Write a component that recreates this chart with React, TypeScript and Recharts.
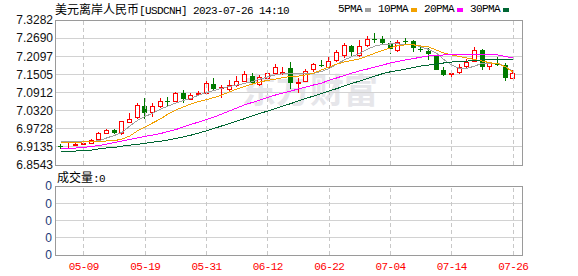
import React from 'react';
import { ComposedChart, Bar, Line, XAxis, YAxis, CartesianGrid, ReferenceLine } from 'recharts';

// trading days shown on the chart (MM-DD)
const dates = [
  '05-04', '05-05', '05-08', '05-09', '05-10', '05-11', '05-12', '05-15', '05-16', '05-17',
  '05-18', '05-19', '05-22', '05-23', '05-24', '05-25', '05-26', '05-29', '05-30', '05-31',
  '06-01', '06-02', '06-05', '06-06', '06-07', '06-08', '06-09', '06-12', '06-13', '06-14',
  '06-15', '06-16', '06-19', '06-20', '06-21', '06-22', '06-23', '06-26', '06-27', '06-28',
  '06-29', '06-30', '07-03', '07-04', '07-05', '07-06', '07-07', '07-10', '07-11', '07-12',
  '07-13', '07-14', '07-17', '07-18', '07-19', '07-20', '07-21', '07-24', '07-25', '07-26',
];

const opens = [
  6.915, 6.919, 6.921, 6.924, 6.927, 6.938, 6.960, 6.969, 6.958, 6.995,
  7.010, 7.047, 7.027, 7.048, 7.064, 7.065, 7.089, 7.071, 7.086, 7.089,
  7.119, 7.106, 7.102, 7.116, 7.130, 7.145, 7.119, 7.138, 7.154, 7.156,
  7.170, 7.121, 7.130, 7.167, 7.180, 7.176, 7.197, 7.214, 7.244, 7.214,
  7.245, 7.267, 7.266, 7.252, 7.230, 7.258, 7.260, 7.232, 7.227, 7.210,
  7.165, 7.153, 7.159, 7.179, 7.195, 7.230, 7.178, 7.185, 7.181, 7.138,
];
const highs = [
  6.922, 6.928, 6.927, 6.932, 6.938, 6.962, 6.972, 6.973, 6.997, 7.023,
  7.058, 7.072, 7.056, 7.072, 7.078, 7.093, 7.099, 7.089, 7.096, 7.132,
  7.138, 7.116, 7.131, 7.144, 7.161, 7.155, 7.149, 7.165, 7.184, 7.176,
  7.192, 7.138, 7.167, 7.189, 7.197, 7.208, 7.230, 7.252, 7.248, 7.263,
  7.276, 7.287, 7.276, 7.260, 7.263, 7.268, 7.262, 7.241, 7.236, 7.212,
  7.175, 7.160, 7.185, 7.201, 7.240, 7.232, 7.191, 7.207, 7.187, 7.165,
];
const lows = [
  6.906, 6.909, 6.916, 6.920, 6.925, 6.935, 6.955, 6.955, 6.951, 6.993,
  7.004, 7.004, 7.012, 7.042, 7.045, 7.061, 7.056, 7.067, 7.083, 7.083,
  7.099, 7.072, 7.094, 7.110, 7.127, 7.116, 7.114, 7.132, 7.149, 7.149,
  7.103, 7.089, 7.126, 7.159, 7.176, 7.170, 7.192, 7.203, 7.208, 7.208,
  7.240, 7.252, 7.249, 7.218, 7.225, 7.248, 7.224, 7.225, 7.197, 7.164,
  7.145, 7.132, 7.152, 7.168, 7.194, 7.166, 7.166, 7.177, 7.128, 7.136,
];
const closes = [
  6.914, 6.920, 6.923, 6.926, 6.936, 6.960, 6.969, 6.958, 6.997, 7.006,
  7.049, 7.025, 7.047, 7.065, 7.063, 7.089, 7.071, 7.083, 7.089, 7.121,
  7.103, 7.108, 7.116, 7.130, 7.151, 7.121, 7.143, 7.156, 7.176, 7.158,
  7.121, 7.124, 7.163, 7.183, 7.179, 7.194, 7.224, 7.247, 7.225, 7.244,
  7.267, 7.264, 7.254, 7.232, 7.257, 7.255, 7.236, 7.230, 7.216, 7.165,
  7.149, 7.155, 7.176, 7.191, 7.230, 7.176, 7.187, 7.183, 7.138, 7.156,
];

// moving averages as plotted (they include days before the visible window)
const ma5 = [
  6.931, 6.931, 6.931, 6.931, 6.931, 6.934, 6.943, 6.951, 6.961, 6.982,
  7.000, 7.013, 7.024, 7.037, 7.047, 7.057, 7.065, 7.072, 7.083, 7.091,
  7.098, 7.105, 7.111, 7.116, 7.121, 7.127, 7.135, 7.143, 7.149, 7.153,
  7.154, 7.154, 7.154, 7.154, 7.160, 7.170, 7.184, 7.198, 7.209, 7.219,
  7.233, 7.243, 7.248, 7.250, 7.250, 7.248, 7.247, 7.240, 7.232, 7.220,
  7.198, 7.181, 7.170, 7.170, 7.178, 7.187, 7.187, 7.187, 7.176, 7.159,
];
const ma10 = [
  6.928, 6.928, 6.928, 6.930, 6.931, 6.931, 6.933, 6.934, 6.939, 6.949,
  6.966, 6.979, 6.992, 7.005, 7.021, 7.034, 7.044, 7.054, 7.062, 7.068,
  7.075, 7.083, 7.093, 7.103, 7.111, 7.119, 7.126, 7.131, 7.135, 7.140,
  7.144, 7.145, 7.149, 7.155, 7.165, 7.175, 7.184, 7.191, 7.196, 7.201,
  7.211, 7.220, 7.229, 7.237, 7.245, 7.247, 7.247, 7.243, 7.240, 7.230,
  7.220, 7.214, 7.209, 7.204, 7.199, 7.194, 7.188, 7.186, 7.175, 7.158,
];
const ma20 = [
  6.907, 6.908, 6.910, 6.912, 6.915, 6.918, 6.923, 6.928, 6.933, 6.938,
  6.943, 6.948, 6.952, 6.957, 6.964, 6.970, 6.979, 6.987, 6.995, 7.003,
  7.011, 7.021, 7.031, 7.041, 7.051, 7.059, 7.067, 7.075, 7.083, 7.090,
  7.096, 7.103, 7.109, 7.116, 7.122, 7.131, 7.139, 7.147, 7.155, 7.162,
  7.168, 7.175, 7.181, 7.188, 7.193, 7.198, 7.202, 7.207, 7.211, 7.212,
  7.214, 7.216, 7.217, 7.217, 7.217, 7.217, 7.216, 7.214, 7.209, 7.204,
];
const ma30 = [
  6.898, 6.899, 6.900, 6.902, 6.903, 6.907, 6.910, 6.912, 6.916, 6.919,
  6.922, 6.925, 6.929, 6.932, 6.936, 6.941, 6.946, 6.952, 6.959, 6.966,
  6.974, 6.982, 6.990, 6.998, 7.006, 7.015, 7.023, 7.031, 7.039, 7.047,
  7.055, 7.064, 7.072, 7.080, 7.088, 7.096, 7.104, 7.113, 7.121, 7.129,
  7.137, 7.145, 7.153, 7.159, 7.163, 7.168, 7.173, 7.178, 7.181, 7.184,
  7.188, 7.191, 7.193, 7.194, 7.196, 7.198, 7.199, 7.200, 7.200, 7.200,
];

const volumes = [
  0, 0, 0, 0, 0, 0, 0, 0, 0, 0, 0, 0, 0, 0, 0, 0, 0, 0, 0, 0,
  0, 0, 0, 0, 0, 0, 0, 0, 0, 0, 0, 0, 0, 0, 0, 0, 0, 0, 0, 0,
  0, 0, 0, 0, 0, 0, 0, 0, 0, 0, 0, 0, 0, 0, 0, 0, 0, 0, 0, 0,
];

const priceTicks = [6.8543, 6.9135, 6.9728, 7.032, 7.0912, 7.1505, 7.2097, 7.269, 7.3282];
const labelDates = ['05-09', '05-19', '05-31', '06-12', '06-22', '07-04', '07-14', '07-26'];
const volTicks = [0, 1, 2, 3, 4];
const volTickLabels = ['0', '0', '0', '0', '0'];

const RED = '#ff0000';
const GREEN = '#007a00';
const C5 = '#a0a0a0';
const C10 = '#f2a100';
const C20 = '#ff00ff';
const C30 = '#006633';

const legendItems = [
  { name: '5PMA', color: C5 },
  { name: '10PMA', color: C10 },
  { name: '20PMA', color: C20 },
  { name: '30PMA', color: C30 },
];

const MONO = "'Liberation Mono', 'DejaVu Sans Mono', monospace";
const CJK = "'Noto Sans CJK SC', sans-serif";
const SANS = "'Liberation Sans', Arial, sans-serif";

const rows = dates.map((d, i) => ({
  date: d,
  open: opens[i],
  high: highs[i],
  low: lows[i],
  close: closes[i],
  range: [lows[i], highs[i]],
  ma5: ma5[i],
  ma10: ma10[i],
  ma20: ma20[i],
  ma30: ma30[i],
  vol: volumes[i],
}));

const Candle = (props: any) => {
  const { x, y, width, height, payload } = props;
  const { open, close, high, low } = payload;
  const top = Math.min(y, y + height);
  const h = Math.abs(height);
  const k = high === low ? 0 : h / (high - low);
  const cx = Math.floor(x + width / 2) + 0.5;
  const up = close >= open;
  const color = up ? RED : GREEN;
  const bTop = Math.round(top + (high - Math.max(open, close)) * k);
  const bBot = Math.round(top + (high - Math.min(open, close)) * k);
  return (
    <g>
      <line x1={cx} x2={cx} y1={top} y2={top + h} stroke={color} strokeWidth={1} />
      {up ? (
        <rect x={cx - 2} y={bTop + 0.5} width={4} height={Math.max(bBot - bTop, 0)} fill="#fff" stroke={RED} strokeWidth={1} />
      ) : (
        <rect x={cx - 2.5} y={bTop} width={5} height={Math.max(bBot - bTop, 1)} fill={GREEN} />
      )}
    </g>
  );
};

const DateTick = (props: any) => {
  const { x, y, payload } = props;
  return (
    <text x={x} y={y} dy={8.5} textAnchor="middle" fill={RED} fontFamily={MONO} fontSize={11} letterSpacing={-0.6}>
      {payload.value}
    </text>
  );
};

const frame = (top: number, height: number): React.CSSProperties => ({
  position: 'absolute',
  left: 55,
  top,
  width: 468,
  height,
  border: '1px solid #9a9a9a',
  boxSizing: 'border-box',
  pointerEvents: 'none',
});

export default function App() {
  return (
    <div style={{ position: 'absolute', left: 0, top: 0, width: 578, height: 276, background: '#fff', overflow: 'hidden', shapeRendering: 'crispEdges' } as any}>
      {/* title */}
      <div style={{ position: 'absolute', left: 55, top: 1, lineHeight: '16px', whiteSpace: 'nowrap', color: '#000' }}>
        <span style={{ fontFamily: CJK, fontSize: 12 }}>美元离岸人民币</span>
        <span style={{ fontFamily: MONO, fontSize: 11, letterSpacing: -0.6 }}>[USDCNH] 2023-07-26 14:10</span>
      </div>

      {/* legend */}
      <div style={{ position: 'absolute', left: 338, top: 1, display: 'flex', gap: 7, lineHeight: '16px', alignItems: 'center' }}>
        {legendItems.map((it) => (
          <div key={it.name} style={{ display: 'flex', alignItems: 'center' }}>
            <span style={{ fontFamily: MONO, fontSize: 11, letterSpacing: -0.6, color: '#000' }}>{it.name}</span>
            <span style={{ display: 'inline-block', width: 6, height: 4, background: it.color, marginLeft: 3, marginTop: 1 }} />
          </div>
        ))}
      </div>

      {/* watermark */}
      <div style={{ position: 'absolute', left: 242, top: 70, fontFamily: CJK, fontWeight: 700, fontSize: 34, lineHeight: '38px', color: '#e6e6ea', whiteSpace: 'nowrap' }}>
        东方财富
      </div>

      <div style={{ position: 'absolute', left: 0, top: 0 }}>
        <ComposedChart width={578} height={178} data={rows} margin={{ top: 20, right: 56, bottom: 13, left: 0 }}>
          <CartesianGrid horizontal vertical={false} stroke="#d2d2d2" />
          <XAxis dataKey="date" hide padding={{ left: 2, right: 5 }} />
          <YAxis
            type="number"
            domain={[priceTicks[0], priceTicks[priceTicks.length - 1]]}
            ticks={priceTicks}
            interval={0}
            allowDataOverflow
            width={55}
            tickLine={false}
            axisLine={false}
            tickSize={0}
            tickMargin={2}
            tickFormatter={(v: number) => v.toFixed(4)}
            tick={{ fontSize: 12, fontFamily: SANS, fill: '#111' }}
          />
          {labelDates.map((d) => (
            <ReferenceLine key={d} x={d} stroke="#c8c8c8" strokeDasharray="4 3" />
          ))}
          <Bar dataKey="range" barSize={5} shape={<Candle />} isAnimationActive={false} />
          <Line type="linear" dataKey="ma5" stroke={C5} strokeWidth={1} dot={false} isAnimationActive={false} />
          <Line type="linear" dataKey="ma10" stroke={C10} strokeWidth={1} dot={false} isAnimationActive={false} />
          <Line type="linear" dataKey="ma20" stroke={C20} strokeWidth={1} dot={false} isAnimationActive={false} />
          <Line type="linear" dataKey="ma30" stroke={C30} strokeWidth={1} dot={false} isAnimationActive={false} />
        </ComposedChart>
      </div>
      <div style={frame(20, 146)} />

      {/* volume label */}
      <div style={{ position: 'absolute', left: 57, top: 169, lineHeight: '16px', whiteSpace: 'nowrap', color: '#000' }}>
        <span style={{ fontFamily: CJK, fontSize: 12 }}>成交量</span>
        <span style={{ fontFamily: MONO, fontSize: 11, letterSpacing: -0.6 }}>:0</span>
      </div>

      <div style={{ position: 'absolute', left: 0, top: 178 }}>
        <ComposedChart width={578} height={98} data={rows} margin={{ top: 8, right: 56, bottom: 0, left: 0 }}>
          <CartesianGrid horizontal vertical={false} stroke="#d2d2d2" />
          <XAxis
            dataKey="date"
            ticks={labelDates}
            interval={0}
            height={21}
            padding={{ left: 2, right: 5 }}
            tickLine={false}
            axisLine={false}
            tickSize={6}
            tickMargin={0}
            tick={<DateTick />}
          />
          <YAxis
            type="number"
            domain={[0, 4]}
            ticks={volTicks}
            interval={0}
            width={55}
            tickLine={false}
            axisLine={false}
            tickSize={0}
            tickMargin={3}
            tickFormatter={(_v: number, i: number) => volTickLabels[i]}
            tick={{ fontSize: 12, fontFamily: SANS, fill: '#1c3b78' }}
          />
          {labelDates.map((d) => (
            <ReferenceLine key={d} x={d} stroke="#c8c8c8" strokeDasharray="4 3" />
          ))}
          <Bar dataKey="vol" barSize={5} fill={GREEN} isAnimationActive={false} />
        </ComposedChart>
      </div>
      <div style={frame(186, 70)} />
    </div>
  );
}
